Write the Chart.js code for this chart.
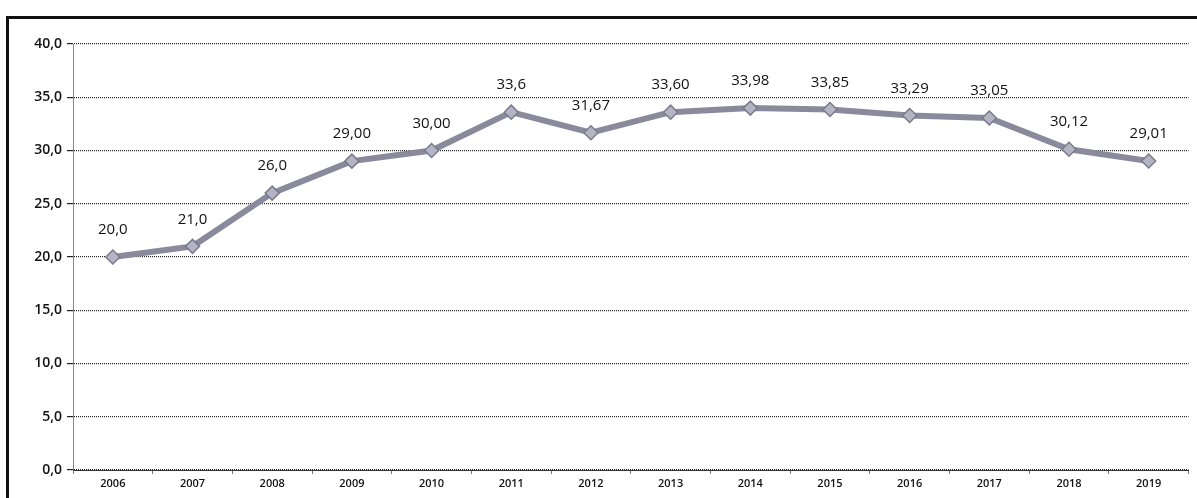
<!DOCTYPE html>
<html>
<head>
<meta charset="utf-8">
<script src="https://cdn.jsdelivr.net/npm/chart.js@4"></script>
<style>
  body { margin: 0; background: #fff; }
  #wrap { position: relative; width: 1197px; height: 498px; }
  #frame { position: absolute; left: 6px; top: 16px; right: -4px; bottom: -4px; border-left: 3px solid #111; border-top: 3px solid #111; }
  canvas { position: absolute; left: 0; top: 0; }
</style>
</head>
<body>
<div id="wrap">
  <div id="frame"></div>
  <canvas id="lineChart" width="1197" height="498"></canvas>
</div>
<script>
var years = ['2006', '2007', '2008', '2009', '2010', '2011', '2012', '2013', '2014', '2015', '2016', '2017', '2018', '2019'];
var values = [20.0, 21.0, 26.0, 29.0, 30.0, 33.6, 31.67, 33.6, 33.98, 33.85, 33.29, 33.05, 30.12, 29.01];
var valueLabels = ['20,0', '21,0', '26,0', '29,00', '30,00', '33,6', '31,67', '33,60', '33,98', '33,85', '33,29', '33,05', '30,12', '29,01'];
var yTicks = [0, 5, 10, 15, 20, 25, 30, 35, 40];

// draws the value over each point
var pointLabels = {
    id: 'pointLabels',
    afterDatasetsDraw: function(chart) {
        var ctx = chart.ctx;
        var meta = chart.getDatasetMeta(0);
        ctx.save();
        ctx.font = '15px "Open Sans"';
        ctx.fillStyle = '#111';
        ctx.textAlign = 'center';
        ctx.textBaseline = 'middle';
        meta.data.forEach(function(pt, i) {
            ctx.fillText(valueLabels[i], pt.x, pt.y - 27);
        });
        ctx.restore();
    }
};

var ctx = document.getElementById('lineChart').getContext('2d');
var lineChart = new Chart(ctx, {
    type: 'line',
    data: {
        labels: years,
        datasets: [{
            data: values,
            borderColor: '#8a8a9c',
            borderWidth: 6,
            pointStyle: 'rectRot',
            pointRadius: 7,
            pointBackgroundColor: '#b4b4c4',
            pointBorderColor: '#7a7a8c',
            pointBorderWidth: 1.5,
            tension: 0
        }]
    },
    options: {
        responsive: false,
        animation: false,
        layout: { padding: { top: 44, left: 0, right: 0, bottom: 0 } },
        plugins: {
            legend: { display: false },
            tooltip: { enabled: false }
        },
        scales: {
            x: {
                offset: true,
                afterFit: function(scale) { scale.height = 28; },
                grid: {
                    offset: true,
                    drawOnChartArea: false,
                    tickLength: 4,
                    color: '#777'
                },
                border: { color: '#333', dash: [1, 1] },
                ticks: {
                    color: '#111',
                    font: { family: 'Open Sans', size: 11, weight: '600' },
                    padding: 3,
                    maxRotation: 0
                }
            },
            y: {
                min: 0,
                max: 40,
                afterFit: function(scale) { scale.width = 73; },
                afterBuildTicks: function(scale) {
                    scale.ticks = yTicks.map(function(v) { return { value: v }; });
                },
                grid: {
                    color: '#222',
                    lineWidth: 1.2,
                    tickLength: 6
                },
                border: { color: '#888', dash: [1, 1] },
                ticks: {
                    color: '#111',
                    font: { family: 'Open Sans', size: 14, weight: '600' },
                    padding: 5,
                    callback: function(v) { return v.toFixed(1).replace('.', ','); }
                }
            }
        }
    },
    plugins: [pointLabels]
});
</script>
</body>
</html>
